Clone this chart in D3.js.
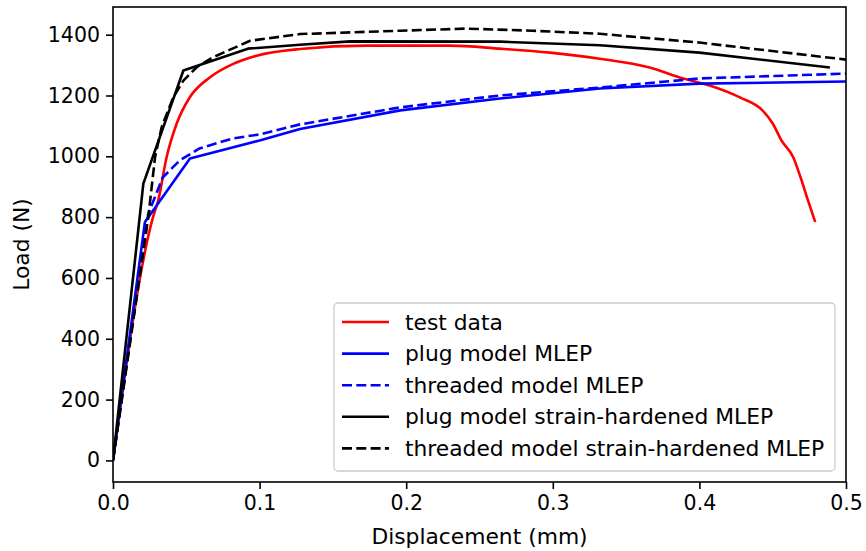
<!DOCTYPE html>
<html>
<head>
<meta charset="utf-8">
<script src="https://cdn.jsdelivr.net/npm/d3@7"></script>
<style>
  body { margin: 0; background: #fff; }
  svg text { font-family: "DejaVu Sans", sans-serif; fill: #000; }
</style>
</head>
<body>
<div id="chart"></div>
<script>
// series
const testX = [0, 0.0273, 0.0309, 0.0366, 0.0434, 0.0525, 0.0662, 0.082, 0.098, 0.1276, 0.173, 0.23, 0.264, 0.298, 0.332, 0.366, 0.389, 0.407, 0.428, 0.443, 0.45, 0.456, 0.464, 0.469, 0.474, 0.479];
const testY = [0, 800, 856, 998, 1107, 1195, 1260, 1304, 1331, 1353, 1364, 1364, 1354, 1341, 1321, 1292, 1256, 1233, 1193, 1151, 1108, 1052, 997, 931, 856, 784];

const plugX = [0, 0.0218, 0.0525, 0.1, 0.1276, 0.196, 0.264, 0.332, 0.4, 0.5];
const plugY = [0, 784, 993, 1052, 1090, 1151, 1190, 1223, 1239, 1246];

const threadX = [0, 0.024, 0.034, 0.0457, 0.059, 0.082, 0.1, 0.1276, 0.196, 0.264, 0.332, 0.4, 0.5];
const threadY = [0, 810, 931, 987, 1026, 1059, 1072, 1105, 1161, 1200, 1226, 1256, 1272];

const plugShX = [0, 0.0207, 0.048, 0.092, 0.1276, 0.162, 0.264, 0.332, 0.4, 0.489];
const plugShY = [0, 910, 1282, 1354, 1367, 1378, 1377, 1365, 1341, 1292];

const threadShX = [0, 0.0241, 0.0287, 0.0332, 0.0411, 0.048, 0.0571, 0.0684, 0.0935, 0.1276, 0.196, 0.241, 0.286, 0.332, 0.4, 0.5];
const threadShY = [0, 801, 998, 1096, 1194, 1249, 1293, 1326, 1380, 1402, 1413, 1420, 1413, 1403, 1374, 1318];

const xTicks = [0, 0.1, 0.2, 0.3, 0.4, 0.5];
const yTicks = [0, 200, 400, 600, 800, 1000, 1200, 1400];

const seriesNames = ["test data", "plug model MLEP", "threaded model MLEP",
  "plug model strain-hardened MLEP", "threaded model strain-hardened MLEP"];
const seriesColors = ["#ff0000", "#0000ff", "#0000ff", "#000000", "#000000"];
const seriesDashed = [false, false, true, false, true];

const series = [
  testX.map((x, i) => ({ x: x, y: testY[i] })),
  plugX.map((x, i) => ({ x: x, y: plugY[i] })),
  threadX.map((x, i) => ({ x: x, y: threadY[i] })),
  plugShX.map((x, i) => ({ x: x, y: plugShY[i] })),
  threadShX.map((x, i) => ({ x: x, y: threadShY[i] }))
];

const W = 866, H = 551;
const margin = { top: 7, right: 20, bottom: 69, left: 113 };
const width = W - margin.left - margin.right;
const height = H - margin.top - margin.bottom;
const fs = 20.5;   // tick labels
const fsL = 21.8;  // axis labels + legend

const svg = d3.select("#chart").append("svg")
  .attr("width", W)
  .attr("height", H);

const g = svg.append("g")
  .attr("transform", `translate(${margin.left},${margin.top})`);

const x = d3.scaleLinear().domain([0, 0.5]).range([0, width]);
const y = d3.scaleLinear().domain([-71, 1491]).range([height, 0]);

g.append("clipPath").attr("id", "clip")
  .append("rect").attr("width", width).attr("height", height);

// axes
const xAxis = g.append("g")
  .attr("transform", `translate(0,${height})`)
  .call(d3.axisBottom(x).tickValues(xTicks).tickFormat(d3.format(".1f")).tickSizeOuter(0).tickSize(7).tickPadding(6));
const yAxis = g.append("g")
  .call(d3.axisLeft(y).tickValues(yTicks).tickFormat(d3.format("d")).tickSizeOuter(0).tickSize(7).tickPadding(6));

[xAxis, yAxis].forEach(a => {
  a.select(".domain").remove();
  a.selectAll(".tick line").attr("stroke", "#000").attr("stroke-width", 1.6);
  a.selectAll(".tick text").style("font-size", fs + "px");
});

// lines (test data is dense measured data -> smooth it)
const line = d3.line().x(d => x(d.x)).y(d => y(d.y));
const smooth = d3.line().curve(d3.curveMonotoneX).x(d => x(d.x)).y(d => y(d.y));

const lines = g.append("g").attr("clip-path", "url(#clip)");
series.forEach((s, i) => {
  lines.append("path")
    .datum(s)
    .attr("fill", "none")
    .attr("stroke", seriesColors[i])
    .attr("stroke-width", 2.6)
    .attr("stroke-dasharray", seriesDashed[i] ? "10,4.3" : null)
    .attr("stroke-linejoin", "round")
    .attr("d", i === 0 ? smooth : line);
});

// frame
g.append("rect")
  .attr("width", width).attr("height", height)
  .attr("fill", "none")
  .attr("stroke", "#000")
  .attr("stroke-width", 1.6);

// axis labels
g.append("text")
  .attr("x", width / 2).attr("y", height + 62)
  .attr("text-anchor", "middle")
  .style("font-size", fsL + "px")
  .text("Displacement (mm)");

g.append("text")
  .attr("transform", `translate(${-84},${height / 2}) rotate(-90)`)
  .attr("text-anchor", "middle")
  .style("font-size", fsL + "px")
  .text("Load (N)");

// legend
const legend = svg.append("g").attr("transform", "translate(334,303)");
legend.append("rect")
  .attr("width", 501).attr("height", 168)
  .attr("rx", 4)
  .attr("fill", "#fff").attr("fill-opacity", 0.8)
  .attr("stroke", "#cccccc").attr("stroke-width", 1.3);

seriesNames.forEach((name, i) => {
  const cy = 19 + i * 31.6;
  legend.append("line")
    .attr("x1", 8).attr("x2", 55)
    .attr("y1", cy).attr("y2", cy)
    .attr("stroke", seriesColors[i])
    .attr("stroke-width", 2.6)
    .attr("stroke-dasharray", seriesDashed[i] ? "10,4.3" : null);
  legend.append("text")
    .attr("x", 71).attr("y", cy)
    .attr("dy", "0.35em")
    .style("font-size", fsL + "px")
    .text(name);
});
</script>
</body>
</html>
